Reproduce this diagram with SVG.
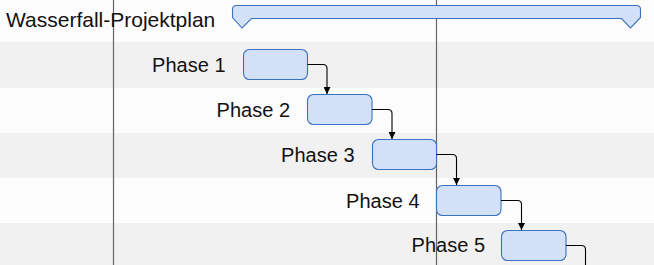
<svg xmlns="http://www.w3.org/2000/svg" width="654" height="265" viewBox="0 0 654 265">
<style>
.rowW{fill:#fcfcfc}
.rowG{fill:#f1f1f1}
.vl{stroke:#666;stroke-width:1.2}
.task{fill:#d2e1f8;stroke:#3a72c0;stroke-width:1.1}
.lbl{font-family:"Liberation Sans",Arial,sans-serif;font-size:21px;fill:#111}
.lblR{font-family:"Liberation Sans",Arial,sans-serif;font-size:20px;fill:#111;text-anchor:end}
.con{fill:none;stroke:#000;stroke-width:1.1}
</style>
<defs>
<marker id="arr" viewBox="0 0 10 10" refX="10" refY="5" markerWidth="7" markerHeight="7" markerUnits="userSpaceOnUse" orient="auto">
<path d="M0,0 L10,5 L0,10 Z" fill="#000"/>
</marker>
</defs>
<g id="background">
<rect class="rowW" x="0" y="0" width="654" height="42"/>
<rect class="rowG" x="0" y="42" width="654" height="46"/>
<rect class="rowW" x="0" y="88" width="654" height="45"/>
<rect class="rowG" x="0" y="133" width="654" height="45"/>
<rect class="rowW" x="0" y="178" width="654" height="45"/>
<rect class="rowG" x="0" y="223" width="654" height="42"/>
<line class="vl" x1="113.5" y1="0" x2="113.5" y2="265"/>
<line class="vl" x1="436.5" y1="0" x2="436.5" y2="265"/>
</g>
<g id="summary">
<text class="lbl" x="6" y="26.7">Wasserfall-Projektplan</text>
<path class="task" d="M236.5,5.5 H636.5 Q640.5,5.5 640.5,9.5 V17.5 L630.5,28 L621.5,18.5 H251.5 L242,28 L232.5,17.5 V9.5 Q232.5,5.5 236.5,5.5 Z"/>
</g>
<g id="phase1">
<text class="lblR" x="225.5" y="71.7">Phase 1</text>
<rect class="task" x="243.5" y="49.5" width="64" height="30" rx="6"/>
</g>
<g id="phase2">
<text class="lblR" x="290" y="117">Phase 2</text>
<rect class="task" x="307.5" y="94.5" width="64.5" height="30" rx="6"/>
</g>
<g id="phase3">
<text class="lblR" x="354.5" y="162.4">Phase 3</text>
<rect class="task" x="372.5" y="139.5" width="64" height="30" rx="6"/>
</g>
<g id="phase4">
<text class="lblR" x="419.5" y="207.8">Phase 4</text>
<rect class="task" x="436.5" y="185.5" width="64.5" height="30" rx="6"/>
</g>
<g id="phase5">
<text class="lblR" x="485" y="251.7">Phase 5</text>
<rect class="task" x="501.5" y="230.5" width="64.5" height="30" rx="6"/>
</g>
<g id="connectors">
<path class="con" d="M307.5,64.5 H323 Q327,64.5 327,68.5 V94" marker-end="url(#arr)"/>
<path class="con" d="M372,109.5 H388 Q392,109.5 392,113.5 V139" marker-end="url(#arr)"/>
<path class="con" d="M436.5,154.5 H452.5 Q456.5,154.5 456.5,158.5 V185" marker-end="url(#arr)"/>
<path class="con" d="M501,200.5 H517.5 Q521.5,200.5 521.5,204.5 V230" marker-end="url(#arr)"/>
<path class="con" d="M566,245.5 H581.5 Q585.5,245.5 585.5,249.5 V268"/>
</g>
</svg>
